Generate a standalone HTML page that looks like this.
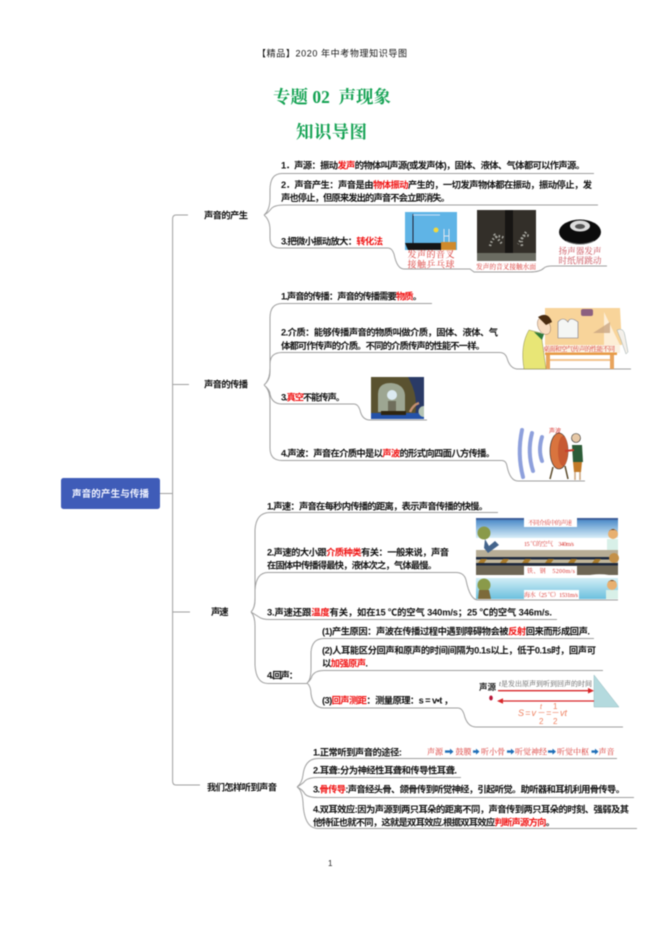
<!DOCTYPE html>
<html><head><meta charset="utf-8"><style>
html,body{margin:0;padding:0;background:#fff;width:661px;height:936px;overflow:hidden}
svg{display:block;filter:blur(.42px)}
text{font-family:"Liberation Sans","Noto Sans CJK SC",sans-serif}
.t{font-size:9.300px;font-weight:700;fill:#111}
.r{fill:#f01212}
.c{font-family:"Liberation Serif","Noto Serif CJK SC",serif;fill:#d8332f;text-anchor:middle}
.l{fill:none;stroke:#a0a0a0;stroke-width:1}
</style></head><body>
<svg xmlns="http://www.w3.org/2000/svg" width="661" height="936" viewBox="0 0 661 936">
<defs>
<linearGradient id="sky" x1="0" y1="0" x2="0" y2="1"><stop offset="0" stop-color="#3f82c4"/><stop offset="1" stop-color="#d8eef8"/></linearGradient>
<linearGradient id="sea" x1="0" y1="0" x2="0" y2="1"><stop offset="0" stop-color="#d2eef6"/><stop offset="1" stop-color="#6cc0de"/></linearGradient>
</defs>

<!-- header -->
<text x="257" y="56.500" font-size="9" textLength="150" fill="#111">【精品】2020 年中考物理知识导图</text>
<text x="273" y="103" textLength="118" style='font-family:"Liberation Serif","Noto Serif CJK SC",serif;font-weight:700;font-size:17.500px;fill:#14a253'>专题 02&#160; 声现象</text>
<text x="296" y="138" textLength="71" style='font-family:"Liberation Serif","Noto Serif CJK SC",serif;font-weight:700;font-size:17.500px;fill:#14a253'>知识导图</text>
<text x="328" y="866" font-size="8" fill="#222">1</text>

<!-- root -->
<rect x="61" y="478" width="99" height="31" rx="2.500" fill="#3f5cb8"/>
<text x="72" y="497" textLength="77" font-size="9.500" font-weight="700" fill="#f2f4ff">声音的产生与传播</text>
<path class="l" d="M160 493.500H172.600M188 215H176Q172.600 215 172.600 219V781Q172.600 785 176 785H200M172.600 384.500H189M172.600 612H190"/>

<!-- branch 1 -->
<text class="t" x="204" y="218.500" textLength="44">声音的产生</text>
<path class="l" d="M264 215Q270 210 270 198V190Q270 173.500 282 173.500H594M264 215Q268 213 271 209Q274 205 284 205H598M264 215Q270 220 270 230V238Q270 248 280 248H388Q392 248 394 254Q397 269 404 269H470L474 272H530Q540 272 544 268Q546 266 552 266H607"/>
<text class="t" x="281" y="168.500" textLength="304">1．声源：振动<tspan class="r">发声</tspan>的物体叫声源(或发声体)，固体、液体、气体都可以作声源。</text>
<text class="t" x="281" y="188" textLength="311">2．声音产生：声音是由<tspan class="r">物体振动</tspan>产生的，一切发声物体都在振动，振动停止，发</text>
<text class="t" x="281" y="201" textLength="169">声也停止，但原来发出的声音不会立即消失。</text>
<text class="t" x="281" y="244.500" textLength="102">3.把微小振动放大：<tspan class="r">转化法</tspan></text>
<!-- img 1 -->
<rect x="405" y="212" width="52" height="38" fill="#5fb4e6"/>
<path d="M413 214V243" stroke="#223" stroke-width="1"/><path d="M413 215H440" stroke="#eef" stroke-width=".7"/>
<path d="M405 243H441V250H408Z" fill="#151515"/>
<rect x="441" y="242" width="15" height="8" fill="#d08a2c"/>
<circle cx="436" cy="230" r="2.500" fill="#f3d83c"/>
<path d="M444 242V229M449 242V229M444 236H449" stroke="#dfe6ee" stroke-width="1"/>
<text class="c" x="431" y="257.500" font-size="9" textLength="47">发声的音叉</text>
<text class="c" x="431" y="267.500" font-size="9" textLength="47">接触乒乓球</text>
<!-- img 2 -->
<rect x="477" y="210" width="59" height="51" fill="#332f29"/>
<rect x="505" y="210" width="8" height="46" fill="#171513"/>
<rect x="477" y="253" width="59" height="8" fill="#6b6c62"/>
<path d="M490 246q4-14 14-8M522 246q-2-13 8-10M494 234l8 10M526 232l-8 12" stroke="#a5a59e" stroke-width="2.500" fill="none" stroke-dasharray="1.500 2"/>
<text class="c" x="506" y="269" font-size="6.700" textLength="60">发声的音叉接触水面</text>
<!-- img 3 -->
<ellipse cx="580" cy="232" rx="21" ry="12.500" fill="#0c0c0c"/>
<ellipse cx="580" cy="226" rx="10" ry="5.500" fill="#dcdcdc"/>
<ellipse cx="580" cy="226.500" rx="5" ry="2.500" fill="#555"/>
<path d="M566 241q14 6 28 0" stroke="#777" stroke-width=".8" fill="none"/>
<text class="c" x="580" y="254" font-size="8.600" textLength="43" style="fill:#c84b55">扬声器发声</text>
<text class="c" x="580" y="263.500" font-size="8.600" textLength="43" style="fill:#c84b55">时纸屑跳动</text>

<!-- branch 2 -->
<text class="t" x="204" y="387.500" textLength="44">声音的传播</text>
<path class="l" d="M264 385Q270 380 270 368V318Q270 303.500 282 303.500H432M264 385Q270 380 270 372V364Q270 352.500 282 352.500H500Q505 352.500 507 358Q510 369 518 369H631M264 385Q270 390 270 394Q272 404 282 404H354Q358 404 360 410Q362 420 370 420H427M264 385Q270 390 270 402V448Q270 460.500 282 460.500H502Q506 460.500 507 466Q510 481 518 481H585"/>
<text class="t" x="281" y="299.500" textLength="141">1.声音的传播：声音的传播需要<tspan class="r">物质</tspan>。</text>
<text class="t" x="281" y="335.500" textLength="217">2.介质：能够传播声音的物质叫做介质，固体、液体、气</text>
<text class="t" x="281" y="349" textLength="204">体都可作传声的介质。不同的介质传声的性能不一样。</text>
<text class="t" x="281" y="400.500" textLength="64">3.<tspan class="r">真空</tspan>不能传声。</text>
<text class="t" x="281" y="456.500" textLength="214">4.声波：声音在介质中是以<tspan class="r">声波</tspan>的形式向四面八方传播。</text>
<!-- img study -->
<path d="M545 308H620L622 345H545Z" fill="#f8d49a"/>
<path d="M604 312L620 345H604Z" fill="#fdeed6"/>
<rect x="545" y="345" width="75" height="8" fill="#fbf2e2"/>
<rect x="545" y="352.500" width="72" height="2.500" fill="#e79a46"/>
<rect x="546" y="355" width="4" height="14" fill="#e8a45c"/><rect x="610" y="355" width="4" height="14" fill="#e8a45c"/>
<rect x="550" y="359" width="60" height="2" fill="#f4c48c"/>
<path d="M524 369Q520 345 529 330L541 333L546 369Z" fill="#e8e676" stroke="#8a8a50" stroke-width=".5"/>
<ellipse cx="544" cy="326" rx="6" ry="9" fill="#f8dcc0" stroke="#8a6a50" stroke-width=".4" transform="rotate(-25 544 326)"/>
<path d="M538 317Q548 311 552 322L546 325Z" fill="#4a2c10"/>
<path d="M534 332l8 8l2-6z" fill="#2e7a3a"/>
<path d="M558 322V338H578V322Q570 316 568 322Q563 316 558 322Z" fill="#f4f6f4" stroke="#778" stroke-width=".6"/>
<rect x="581" y="309" width="12" height="7" rx="2" fill="#8c6080"/>
<path d="M593 333L610 322V333Z" fill="#c9a582" opacity=".8"/>
<path d="M617 330q7-3 8 6l3 16l-2 2l-5-14z" fill="#f4f0ea" stroke="#9aa" stroke-width=".5"/>
<text class="c" x="579" y="351" font-size="6.500" textLength="72">桌面和空气传声的性能不同</text>
<!-- img bell -->
<rect x="371" y="377" width="53" height="42" fill="#5a5230"/>
<path d="M408 377H424V419H414Q420 398 408 377Z" fill="#2a3a66"/>
<path d="M378 412V394Q378 383 391 383Q404 384 405 395V412Z" fill="#9da692"/>
<circle cx="392" cy="395" r="5" fill="#dcebf2"/>
<rect x="388" y="401" width="8" height="10" fill="#6f6e5c"/>
<rect x="371" y="413" width="53" height="6" fill="#2452a8"/>
<rect x="381" y="411" width="25" height="4" fill="#2e2410"/>
<path d="M424 406a5 5 0 1 0 0 11z" fill="#b5c4b4"/>
<path d="M410 412q3-7 9-9" stroke="#c48f70" stroke-width="2.500" fill="none"/>
<!-- img drum -->
<g fill="none" stroke="#8ea0dc" stroke-linecap="round" stroke-width="4">
<path d="M522 430Q517 454 523 477"/>
<path d="M532 433Q527 452 533 471"/>
<path d="M542 437Q538 450 542 461"/>
</g>
<text x="549" y="433" font-size="6" fill="#d8332f">声波</text>
<ellipse cx="559" cy="451" rx="9" ry="18" fill="#d9743e" stroke="#222" stroke-width=".6"/>
<ellipse cx="563" cy="451" rx="5" ry="15" fill="#c75a32"/>
<path d="M553 467L550 479M565 466L568 479" stroke="#5a4a2a" stroke-width="1.500"/>
<circle cx="576" cy="438" r="4.500" fill="#e6c8a6" stroke="#222" stroke-width=".6"/>
<path d="M572 445H582L583 462H573Z" fill="#2c5c38"/>
<path d="M573 462H582L581 472H574Z" fill="#c27a28"/>
<path d="M575 472V480M580 472V480" stroke="#c9a47e" stroke-width="1.500"/>
<path d="M574 450L565 451" stroke="#c83c2c" stroke-width="2"/>

<!-- branch 3 -->
<text class="t" x="211" y="615" textLength="17.500">声速</text>
<path class="l" d="M251 612Q255 608 255 598V530Q256 512.500 270 512.500H498M251 612Q255 608 255 600V590Q256 572.500 268 572.500H456Q464 572.500 466 580Q470 600 478 600H618M251 612Q256 615 259 617Q262 619.500 270 619.500H557M251 612Q255 616 255 626V665Q256 683.500 268 683.500H307M307 683Q311 680 311 668V652Q312 638.500 324 638.500H594M307 683Q311 680 312 676Q315 670.500 324 670.500H603M307 683Q311 686 311 694Q313 708 324 708H458Q462 708 464 714Q467 727 476 727H623"/>
<text class="t" x="267" y="509.500" textLength="221">1.声速：声音在每秒内传播的距离，表示声音传播的快慢。</text>
<text class="t" x="267" y="555.500" textLength="182">2.声速的大小跟<tspan class="r">介质种类</tspan>有关：一般来说，声音</text>
<text class="t" x="267" y="568.500" textLength="170">在固体中传播得最快，液体次之，气体最慢。</text>
<text class="t" x="267" y="615.500" textLength="285">3.声速还跟<tspan class="r">温度</tspan>有关，如在15 ℃的空气 340m/s；25 ℃的空气 346m/s.</text>
<text class="t" x="267" y="678.500" textLength="31">4.回声：</text>
<text class="t" x="322" y="634.500" textLength="268">(1)产生原因：声波在传播过程中遇到障碍物会被<tspan class="r">反射</tspan>回来而形成回声.</text>
<text class="t" x="322" y="653.500" textLength="274">(2)人耳能区分回声和原声的时间间隔为0.1s以上，低于0.1s时，回声可</text>
<text class="t" x="322" y="666.500" textLength="46">以<tspan class="r">加强原声</tspan>.</text>
<text class="t" x="322" y="703.500" textLength="131">(3)<tspan class="r">回声测距</tspan>：测量原理：s = v•t ，</text>
<!-- img speed -->
<rect x="476" y="518" width="142" height="20" fill="url(#sky)"/>
<rect x="476" y="518" width="142" height="2" fill="#3f5f9a"/>
<rect x="476" y="538" width="142" height="12" fill="#fff"/>
<rect x="476" y="550" width="142" height="7" fill="#b7ad96"/>
<rect x="476" y="557" width="142" height="2.500" fill="#1f2a3e"/>
<rect x="476" y="559.500" width="142" height="3.500" fill="#c2b79c"/>
<path d="M478 563l3-4h6l-3 4zM500 563l3-4h6l-3 4zM522 563l3-4h6l-3 4zM545 563l3-4h6l-3 4zM568 563l3-4h6l-3 4zM592 563l3-4h6l-3 4z" fill="#a87a2a"/>
<rect x="476" y="563" width="142" height="2.500" fill="#1f2a3e"/>
<rect x="476" y="565.500" width="142" height="9.500" fill="#6e6655"/>
<path d="M476 575q18 3 36 1t36 1t36-1t34 1v3H476Z" fill="#fff"/>
<rect x="476" y="578" width="142" height="21" fill="url(#sea)"/>
<rect x="524" y="518" width="53" height="9" fill="#fff"/>
<rect x="524" y="566" width="53" height="9" fill="#fff"/>
<rect x="524" y="590" width="55" height="9" fill="#fff"/>
<text class="c" x="550" y="525" font-size="6" textLength="44">不同介质中的声速</text>
<text class="c" x="549" y="546" font-size="6" textLength="50">15 ℃的空气　340m/s</text>
<text class="c" x="551" y="573" font-size="6" textLength="48">铁、钢　5200m/s</text>
<text class="c" x="551" y="597" font-size="6" textLength="54">海水（25 ℃）1531m/s</text>
<circle cx="484" cy="533" r="6.500" fill="#8a9a4a"/><path d="M485 539l4 7l6-5l4 4l-11 8l-4-5z" fill="#44648c"/>
<circle cx="484" cy="585" r="6.500" fill="#8a9a4a"/><path d="M479 590h10l2 9H478Z" fill="#7c6a3a"/>
<circle cx="613" cy="534" r="5" fill="#e8b070"/><path d="M608 533q5-8 10 0l-2-3h-6z" fill="#6b3c18"/><rect x="607" y="539" width="11" height="11" fill="#d8f0e8"/>
<circle cx="614" cy="558" r="5" fill="#c49048"/>
<circle cx="612" cy="585" r="5" fill="#e8b070"/><path d="M607 584q5-8 10 0l-2-3h-6z" fill="#6b3c18"/><rect x="606" y="590" width="12" height="9" fill="#d8f0e8"/>
<!-- img echo -->
<text x="479" y="690" font-size="8.500" font-weight="700" fill="#222" textLength="17">声源</text>
<ellipse cx="491" cy="698" rx="1.800" ry="2.500" fill="#b81638"/>
<path d="M594 675V707H619Z" fill="#b4dade" stroke="#8fb8bd" stroke-width=".5"/>
<text x="499" y="686" font-size="7" fill="#555" textLength="93" style='font-family:"Liberation Serif","Noto Serif CJK SC",serif'><tspan font-style="italic">t</tspan>是发出原声到听到回声的时间</text>
<path d="M498 690.700H589" stroke="#d8272a" stroke-width="1.300"/><path d="M594 690.700l-6-2.800v5.600z" fill="#d8272a"/>
<path d="M502 701H594" stroke="#d8272a" stroke-width="1.300"/><path d="M497 701l6-2.800v5.600z" fill="#d8272a"/>
<g style='font-family:"Liberation Serif",serif;font-style:italic;font-size:9px;fill:#ee8060'>
<text x="518" y="716" textLength="18">S = v</text><text x="540" y="709" font-size="7">t</text><path d="M538.500 712.500H544.500" stroke="#ee8060" stroke-width=".6"/><text x="539" y="724" font-size="8" font-style="normal">2</text>
<text x="546" y="716">=</text><text x="553" y="709" font-size="8" font-style="normal">1</text><path d="M552.500 712.500H558.500" stroke="#ee8060" stroke-width=".6"/><text x="553" y="724" font-size="8" font-style="normal">2</text>
<text x="560" y="716">vt</text></g>

<!-- branch 4 -->
<text class="t" x="207" y="790.500" textLength="70">我们怎样听到声音</text>
<path class="l" d="M297 787Q302 783 303 775Q305 758.500 318 758.500H617M297 787Q302 784 304 782Q307 777.500 318 777.500H461M297 787Q302 789 305 794Q308 797.500 318 797.500H634M297 787Q302 790 303 802Q304 828.500 318 828.500H637"/>
<text class="t" x="313" y="755.500" textLength="89">1.正常听到声音的途径:</text>
<text class="t" x="313" y="773.500" textLength="144">2.耳聋:分为神经性耳聋和传导性耳聋.</text>
<text class="t" x="313" y="792.500" textLength="312">3.<tspan class="r">骨传导</tspan>:声音经头骨、颌骨传到听觉神经，引起听觉。助听器和耳机利用骨传导。</text>
<text class="t" x="313" y="812.500" textLength="316">4.双耳效应:因为声源到两只耳朵的距离不同，声音传到两只耳朵的时刻、强弱及其</text>
<text class="t" x="313" y="825.500" textLength="242">他特征也就不同，这就是双耳效应.根据双耳效应<tspan class="r">判断声源方向</tspan>。</text>
<g font-size="8">
<text class="c" x="435" y="754.500">声源</text>
<text class="c" x="463.500" y="754.500">鼓膜</text>
<text class="c" x="493" y="754.500">听小骨</text>
<text class="c" x="531" y="754.500">听觉神经</text>
<text class="c" x="573" y="754.500">听觉中枢</text>
<text class="c" x="606.500" y="754.500">声音</text>
</g>
<g fill="#1f6fb8">
<path d="M445 750.400h5v-1.800l3.500 3l-3.500 3v-1.800h-5z"/>
<path d="M473 750.400h3v-1.800l3.500 3l-3.500 3v-1.800h-3z"/>
<path d="M507 750.400h4v-1.800l3.500 3l-3.500 3v-1.800h-4z"/>
<path d="M548 750.400h4.500v-1.800l3.500 3l-3.500 3v-1.800h-4.500z"/>
<path d="M591.500 750.400h3.500v-1.800l3.500 3l-3.500 3v-1.800h-3.500z"/>
</g>
</svg>
</body></html>
